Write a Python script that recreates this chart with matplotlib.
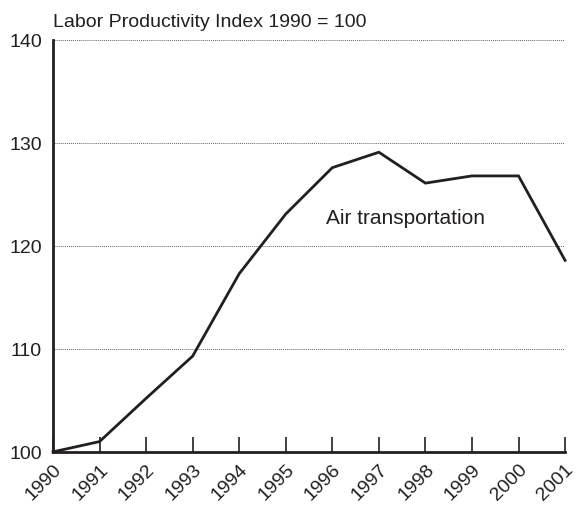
import matplotlib
matplotlib.use("Agg")
import matplotlib.pyplot as plt

plt.rcParams['font.family'] = ['Liberation Sans', 'DejaVu Sans']

years = [1990, 1991, 1992, 1993, 1994, 1995, 1996, 1997, 1998, 1999, 2000, 2001]
index = [100.0, 101.0, 105.2, 109.3, 117.3, 123.1, 127.6, 129.1, 126.1, 126.8, 126.8, 118.6]
yticks = [100, 110, 120, 130, 140]
ink = '#231f20'

fig = plt.figure(figsize=(5.76, 5.06), dpi=100)
ax = fig.add_axes([0.092, 0.105, 0.889, 0.814])

ax.plot(years, index, color=ink, lw=2.0, solid_joinstyle='miter', clip_on=False, zorder=3)

ax.set_xlim(1990, 2001)
ax.set_ylim(100, 140)
ax.set_xticks(years)
ax.set_xticklabels([str(y) for y in years], rotation=45, ha='right', rotation_mode='anchor', fontsize=14)
ax.set_yticks(yticks)
ax.set_yticklabels([str(v) for v in yticks], fontsize=14)

# dotted grid above the baseline
for v in yticks[1:]:
    ax.axhline(v, color='#666666', lw=0.7, ls=(0, (1, 1)), zorder=1)

ax.spines['top'].set_visible(False)
ax.spines['right'].set_visible(False)
for side in ['left', 'bottom']:
    ax.spines[side].set_linewidth(2)
    ax.spines[side].set_color(ink)
ax.tick_params(axis='x', direction='in', length=11, width=1.2, color=ink, pad=6, labelcolor=ink)
ax.tick_params(axis='y', length=0, pad=8, labelcolor=ink)

ax.text(0.0, 1.025, 'Labor Productivity Index 1990 = 100', transform=ax.transAxes,
        ha='left', va='bottom', fontsize=14, color=ink)
ax.text(1995.87, 122.8, 'Air transportation', ha='left', va='center', fontsize=15, color=ink)

fig.savefig('out.png', dpi=100)
